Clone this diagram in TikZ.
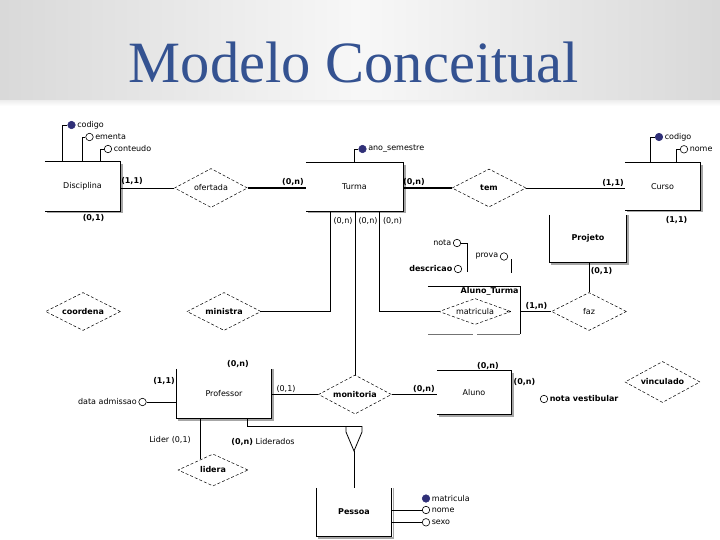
\documentclass[tikz,border=0pt]{standalone}
\usepackage{fontspec}
\usetikzlibrary{shapes.geometric,calc}
\newfontfamily\titlefont{Liberation Serif}
\newfontfamily\erfont{DejaVu Sans}
\definecolor{titleblue}{RGB}{52,82,145}
\definecolor{keyblue}{RGB}{48,48,120}
\newcommand\ERtrb[1]{%
 \draw[shadowln] ([shift={(1.6,2)}]#1.north east) -- ([shift={(1.6,1.6)}]#1.south east) -- ([shift={(2,1.6)}]#1.south west);
 \draw[box] (#1.north west) -- (#1.north east) -- (#1.south east) -- (#1.south west);}
\newcommand\ERlrb[1]{%
 \draw[shadowln] ([shift={(1.6,0)}]#1.north east) -- ([shift={(1.6,1.6)}]#1.south east) -- ([shift={(1.6,1.6)}]#1.south west);
 \draw[box] (#1.north west) -- (#1.south west) -- (#1.south east) -- (#1.north east);}
\begin{document}
\begin{tikzpicture}[x=1pt,y=-1pt,
  erf/.style={font=\erfont\fontsize{8}{9}\selectfont},
  erb/.style={font=\erfont\bfseries\fontsize{8}{9}\selectfont},
  ent/.style={rectangle, inner sep=0pt, erf},
  rel/.style={diamond, aspect=2, inner sep=0pt, draw, densely dashed, line width=0.5pt, erf},
  attr/.style={circle, draw, line width=0.6pt, minimum size=7.5pt, inner sep=0pt},
  keyattr/.style={attr, fill=keyblue, draw=keyblue},
  atxt/.style={inner sep=1.5pt, erf},
  card/.style={inner sep=0pt, erb},
  cardn/.style={inner sep=0pt, erf},
  edge/.style={line width=0.8pt},
  thickedge/.style={line width=2pt},
  box/.style={line width=0.8pt},
  shadowln/.style={draw=black!35, line width=1.4pt},
  titlest/.style={font=\titlefont\fontsize{58.5}{60}\selectfont, inner sep=0pt, anchor=base}
]
\useasboundingbox (0,0) rectangle (720,540);
\shade[left color=black!15, right color=black!15, middle color=white!97!black] (0,0) rectangle (720,104);
\shade[top color=black!6, bottom color=white] (0,101) rectangle (720,106);
% title
\node[titlest, text=titleblue] (title) at (354,83) {Modelo Conceitual};

% entities
\node[ent, minimum width=75pt, minimum height=49pt] (disc) at (82.5,186.5) {Disciplina};
\node[ent, minimum width=97pt, minimum height=48pt] (turma) at (354.5,187) {Turma};
\node[ent, minimum width=75pt, minimum height=47pt] (curso) at (662.5,186.5) {Curso};
\node[ent, minimum width=76pt, minimum height=47pt, erb] (projeto) at (588,238.5) {Projeto};
\node[ent, minimum width=94pt, minimum height=49pt] (prof) at (224,393.5) {Professor};
\node[ent, minimum width=74pt, minimum height=43pt] (aluno) at (474,392.5) {Aluno};
\node[ent, minimum width=75pt, minimum height=48pt, erb] (pessoa) at (354,512) {Pessoa};
\ERtrb{disc}
\ERtrb{turma}
\ERtrb{curso}
\ERlrb{projeto}
\ERlrb{prof}
\ERtrb{aluno}
\ERlrb{pessoa}

% aggregation Aluno_Turma
\node[rectangle, inner sep=0pt, minimum width=92pt, minimum height=47pt] (agg) at (474,310.5) {};
\draw[box] (agg.north west) -- (agg.north east) -- (agg.south east);
\draw[draw=black!55, line width=1.4pt] (agg.south east) -- ([xshift=-43.5pt]agg.south east);
\draw[draw=black!55, line width=1.4pt] ([xshift=45pt]agg.south west) -- (agg.south west);
\node[card, anchor=north east] (aggt) at ([shift={(-1.5,0.5)}]agg.north east) {Aluno\_Turma};

% relationships
\node[rel, minimum width=73pt, minimum height=39pt] (ofer) at (211,188) {ofertada};
\node[rel, minimum width=74pt, minimum height=38pt, erb] (tem) at (489,188) {tem};
\node[rel, minimum width=75pt, minimum height=38pt, erb] (coord) at (83,311.5) {coordena};
\node[rel, minimum width=74pt, minimum height=38pt, erb] (minis) at (224,311.5) {ministra};
\node[rel, aspect=3, minimum width=72pt, minimum height=26pt] (matric) at (475,311.5) {matricula};
\node[rel, minimum width=75pt, minimum height=38pt] (faz) at (589,311.5) {faz};
\node[rel, minimum width=73pt, minimum height=39pt, erb] (monit) at (355,394.5) {monitoria};
\node[rel, minimum width=75pt, minimum height=41pt, erb] (vinc) at (662.5,382) {vinculado};
\node[rel, minimum width=70pt, minimum height=32pt, erb] (lidera) at (213,470) {lidera};
\fill (507.5,311.5) circle (0.9);

% connectors
\draw[edge] (ofer.west -| disc.east) -- (ofer.west);
\draw[thickedge] (ofer.east) -- (ofer.east -| turma.west);
\draw[thickedge] (tem.west -| turma.east) -- (tem.west);
\draw[edge] (tem.east) -- (tem.east -| curso.west);
\draw[edge] (minis.east) -| ([xshift=25pt]turma.south west);
\draw[edge] (monit.north) -- (monit.north |- turma.south);
\draw[edge] (matric.west) -| ([xshift=74pt]turma.south west);
\draw[edge] (faz.west -| agg.east) -- (faz.west);
\draw[edge] (faz.north) -- (faz.north |- projeto.south);
\draw[edge] (monit.west) -- (monit.west -| prof.east);
\draw[edge] (monit.east) -- (monit.east -| aluno.west);
\draw[edge] (lidera.139) -- (lidera.139 |- prof.south);

% generalization Professor/Aluno -> Pessoa
\coordinate (gl) at (346,426);
\coordinate (gr) at (362,426);
\coordinate (gapex) at (354,451);
\draw[edge] ([xshift=71pt]prof.south west) |- (gr);
\draw[edge] (gl) -- ($(gl)+(0,6)$) -- (gapex) -- ($(gr)+(0,6)$) -- (gr);
\draw[edge] (gapex) -- (pessoa.north);

% attributes Disciplina
\node[keyattr] (dcod) at (71.5,125) {};
\node[attr] (dem) at (89.5,137) {};
\node[attr] (dcon) at (108,149) {};
\node[atxt, anchor=west] (dcodt) at (dcod.east) {codigo};
\node[atxt, anchor=west] (demt) at (dem.east) {ementa};
\node[atxt, anchor=west] (dcont) at (dcon.east) {conteudo};
\draw[edge] ([xshift=18pt]disc.north west) |- (dcod.west);
\draw[edge] ([xshift=37.5pt]disc.north west) |- (dem.west);
\draw[edge] ([xshift=56pt]disc.north west) |- (dcon.west);

% Turma
\node[keyattr] (tano) at (362.5,149) {};
\node[atxt, anchor=west] (tanot) at (tano.east) {ano\_semestre};
\draw[edge] (tano.west) -| (turma.north);

% Curso
\node[keyattr] (ccod) at (659,137) {};
\node[attr] (cnom) at (684,149.3) {};
\node[atxt, anchor=west] (ccodt) at (ccod.east) {codigo};
\node[atxt, anchor=west] (cnomt) at (cnom.east) {nome};
\draw[edge] ([xshift=26pt]curso.north west) |- (ccod.west);
\draw[edge] ([xshift=51.5pt]curso.north west) |- (cnom.west);

% Professor
\node[attr] (padm) at (142.5,402) {};
\node[atxt, anchor=east] (padmt) at (padm.west) {data admissao};
\draw[edge] (padm.east) -- (padm.east -| prof.west);

% Aluno
\node[attr] (anv) at (544,399) {};
\node[atxt, anchor=west, erb] (anvt) at (anv.east) {nota vestibular};

% Pessoa
\node[keyattr] (pmat) at (426,498.5) {};
\node[attr] (pnom) at (426,510) {};
\node[attr] (psex) at (426,522.3) {};
\node[atxt, anchor=west] (pmatt) at (pmat.east) {matricula};
\node[atxt, anchor=west] (pnomt) at (pnom.east) {nome};
\node[atxt, anchor=west] (psext) at (psex.east) {sexo};
\draw[edge] (pnom.west) -- (pnom.west -| pessoa.east);
\draw[edge] (psex.west) -- (psex.west -| pessoa.east);

% prova (composite attribute)
\node[attr] (anota) at (457,243) {};
\node[attr] (adesc) at (458,269) {};
\node[attr] (aprova) at (504,256.5) {};
\node[atxt, anchor=east] (anotat) at (anota.west) {nota};
\node[atxt, anchor=east, erb] (adesct) at (adesc.west) {descricao};
\node[atxt, anchor=east] (aprovat) at (aprova.west) {prova};
\coordinate (provaj) at (467,272);
\draw[edge] (anota.east) -| (provaj);
\coordinate (provat1) at (511.5,259);
\coordinate (provat2) at (511.5,273);
\draw[edge] (provat1) -- (provat2);

% cardinalities
\node[card] (c1) at (132,181.5) {(1,1)};
\node[card] (c2) at (293,182.5) {(0,n)};
\node[card] (c3) at (414,182.5) {(0,n)};
\node[card] (c4) at (613,183) {(1,1)};
\node[card] (c5) at (676.5,220) {(1,1)};
\node[card] (c6) at (93.5,218.5) {(0,1)};
\node[cardn] (c7) at (343,220.5) {(0,n)};
\node[cardn] (c8) at (368,220.5) {(0,n)};
\node[cardn] (c9) at (392.5,220.5) {(0,n)};
\node[card] (c10) at (601.5,271.5) {(0,1)};
\node[card] (c11) at (536.5,306) {(1,n)};
\node[card] (c12) at (238,364.5) {(0,n)};
\node[card] (c13) at (164,381.5) {(1,1)};
\node[cardn] (c14) at (286,389) {(0,1)};
\node[card] (c15) at (424,389) {(0,n)};
\node[card] (c16) at (488,366.5) {(0,n)};
\node[card] (c17) at (524.5,382) {(0,n)};
\node[cardn] (c18) at (170,440) {Lider (0,1)};
\node[cardn] (c19) at (263,442) {{\bfseries(0,n)} Liderados};
\end{tikzpicture}
\end{document}
